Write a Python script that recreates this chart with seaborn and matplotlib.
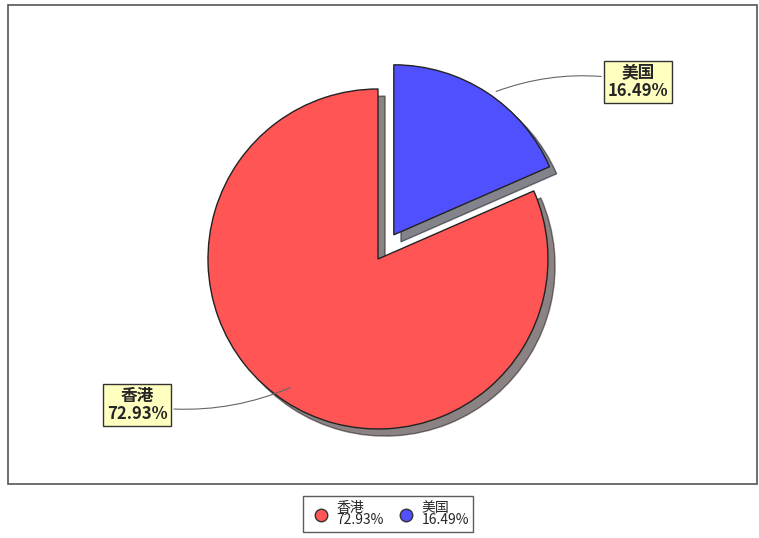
import numpy as np
import matplotlib.pyplot as plt
import matplotlib.patches as mpatches
from matplotlib.lines import Line2D
import seaborn as sns

sns.set_theme(style="white")
plt.rcParams['font.family'] = ['Noto Sans CJK SC', 'DejaVu Sans']

categories = ['美国', '香港']
values = [16.49, 72.93]
colors = ['#5050FF', '#FF5555']

W, H = 759, 538
fig = plt.figure(figsize=(W / 100, H / 100), dpi=100)
fig.patch.set_facecolor('white')

def fx(px):
    return px / W

def fy(py):
    return 1 - py / H

# plot frame
fig.patches.append(mpatches.Rectangle((fx(8), fy(484)), fx(757) - fx(8), fy(5) - fy(484),
                                      transform=fig.transFigure, fill=False,
                                      edgecolor='#555555', lw=1.2))

cx, cy, r = 378, 259, 170
ax = fig.add_axes([fx(cx - r), fy(cy + r), 2 * r / W, 2 * r / H])
wedges, _ = ax.pie(values, colors=colors, startangle=90, counterclock=False,
                   explode=[0.17, 0], shadow={'ox': 0.03, 'oy': -0.03, 'shade': 0.9},
                   wedgeprops=dict(edgecolor='#222222', linewidth=1))
ax.set_xlim(-1, 1)
ax.set_ylim(-1, 1)
ax.set_aspect('auto')
ax.axis('off')

labels = [f"{c}\n{v:.2f}%" for c, v in zip(categories, values)]
anchors = [(0.68, 0.98), (-0.5, -0.75)]
boxes = [(fx(638), fy(82)), (fx(137), fy(405))]
for lab, a, b in zip(labels, anchors, boxes):
    ax.annotate(lab, xy=a, xycoords='data', xytext=b, textcoords='figure fraction',
                ha='center', va='center', fontsize=12, fontweight='bold',
                linespacing=1.0,
                bbox=dict(boxstyle='square,pad=0.2', fc='#FFFFC0', ec='#333333', lw=1),
                arrowprops=dict(arrowstyle='-', color='#666666', lw=0.8,
                                connectionstyle='arc3,rad=0.15'))

handles = [Line2D([], [], marker='o', ls='', markersize=9, markerfacecolor=c,
                  markeredgecolor='#333333') for c in colors[::-1]]
leg = fig.legend(handles, labels[::-1], loc='center', bbox_to_anchor=(fx(388), fy(514)),
                 ncol=2, frameon=True, fontsize=10, handletextpad=0.1, columnspacing=0.6,
                 borderpad=0.3, fancybox=False)
leg.get_frame().set_edgecolor('#333333')
leg.get_frame().set_linewidth(1)
for t in leg.get_texts():
    t.set_linespacing(0.9)

fig.savefig('out.png', dpi=100)
